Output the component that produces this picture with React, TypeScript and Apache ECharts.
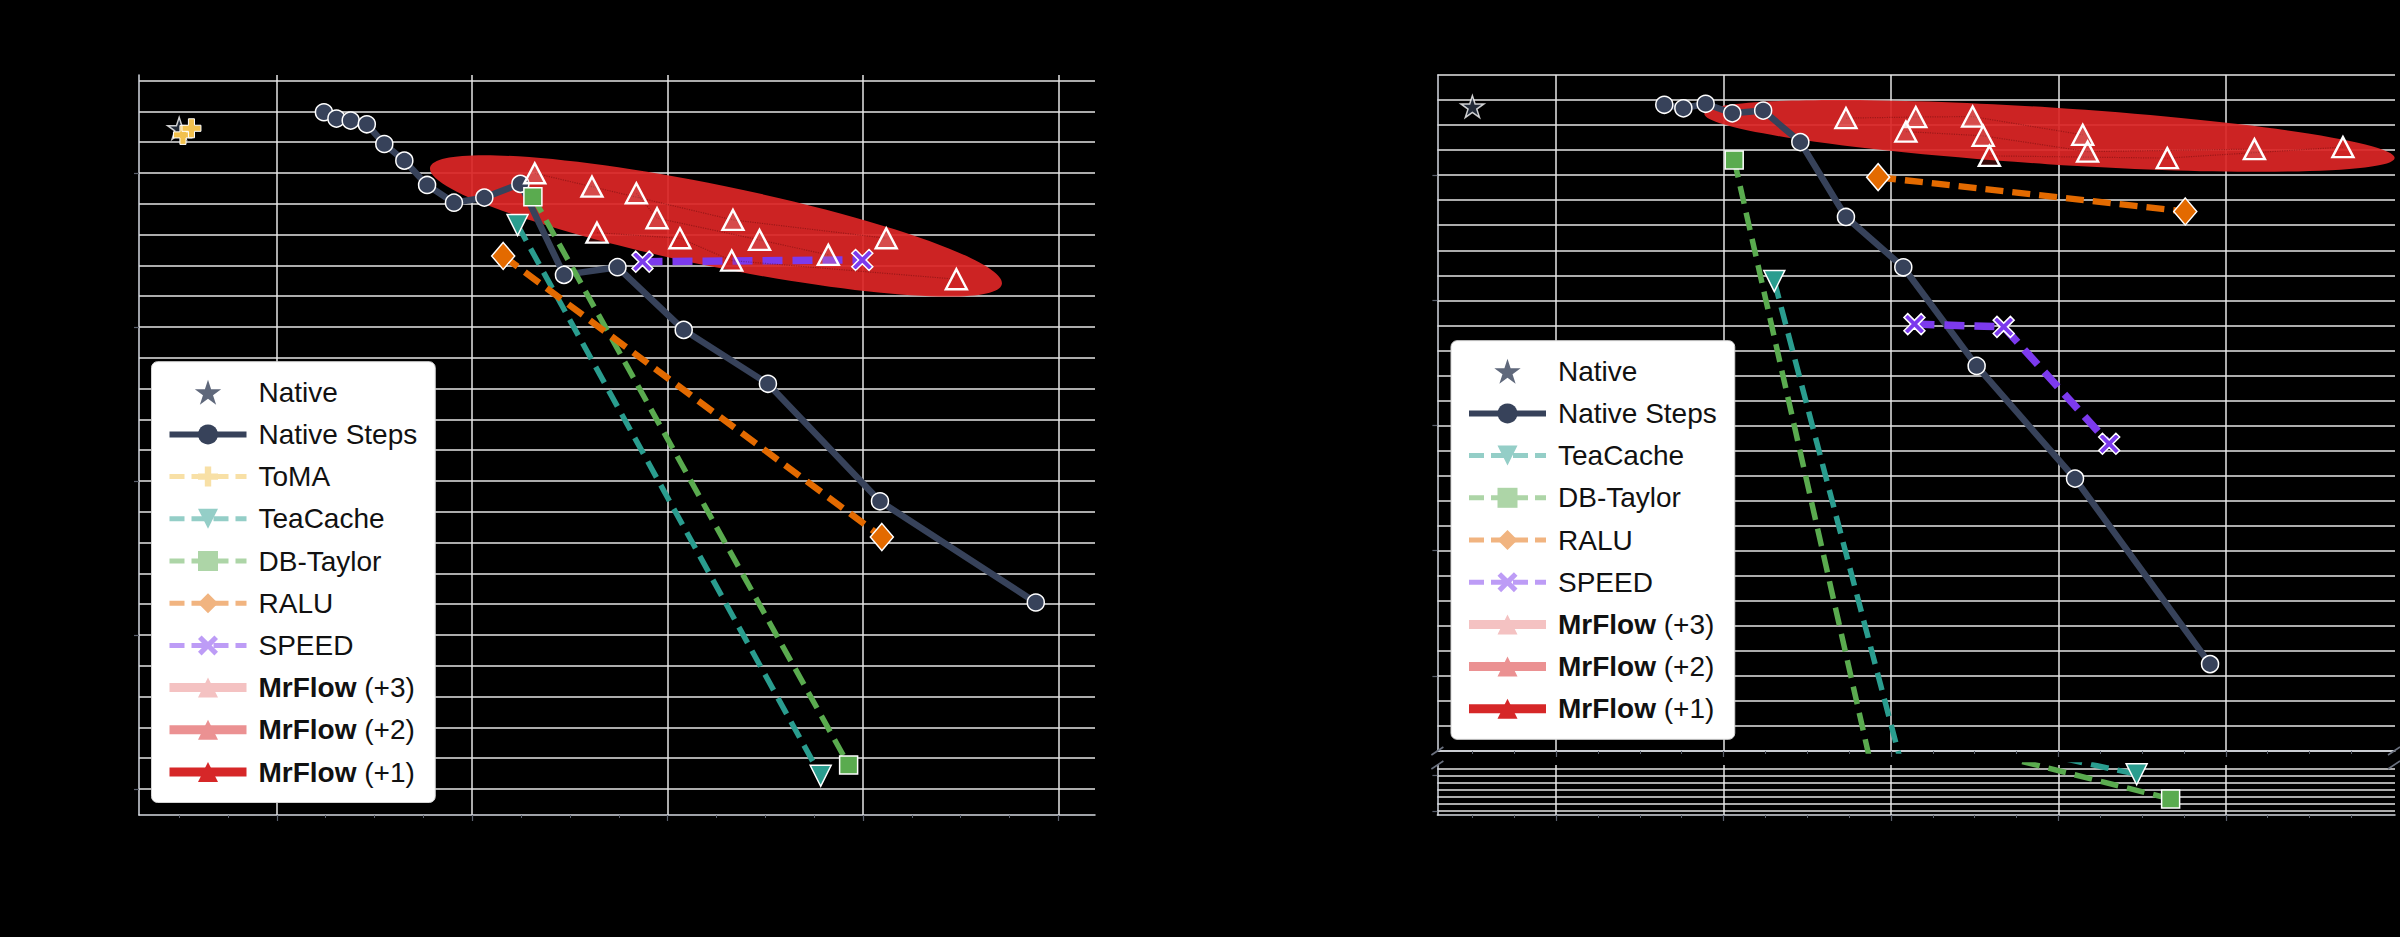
import React, { useEffect, useRef } from 'react';
import * as echarts from 'echarts';

// ---------------- DATA (x = speedup, y = quality score) ----------------
// Left panel
const L_NATIVE = [[1.0, 1.029]];
const L_TOMA = [[1.039, 1.0247], [1.126, 1.029]];
const L_NATIVE_STEPS = [
  [2.482, 1.0394], [2.61, 1.0353], [2.756, 1.034], [2.921, 1.0316], [3.1, 1.0188], [3.305, 1.008],
  [3.538, 0.9922], [3.813, 0.9807], [4.124, 0.984], [4.493, 0.9929], [4.939, 0.9338], [5.487, 0.9388],
  [6.165, 0.8981], [7.027, 0.8631], [8.174, 0.7868], [9.769, 0.7211],
];
const L_TEACACHE = [[4.464, 0.9662], [7.567, 0.6086]];
const L_DBTAYLOR = [[4.621, 0.9846], [7.853, 0.6156]];
const L_RALU = [[4.317, 0.9461], [8.193, 0.7636]];
const L_SPEED = [[5.743, 0.9424], [7.993, 0.9435]];
const L_MRFLOW3 = [[4.64, 0.9998], [5.226, 0.9911], [6.669, 0.9695], [8.238, 0.9576]];
const L_MRFLOW2 = [[5.68, 0.9868], [5.892, 0.9706], [6.941, 0.9565], [7.645, 0.9468]];
const L_MRFLOW1 = [[5.277, 0.9612], [6.126, 0.9576], [6.656, 0.9431], [8.956, 0.931]];
// highlight ellipse: [centerX, centerY, majorEndX, majorEndY, minor/major ratio]
const L_ELLIPSE = [6.495, 0.9656, 9.421, 0.9278, 0.1395];

// Right panel
const R_NATIVE = [[1.0, 1.1274]];
const R_NATIVE_STEPS = [
  [3.292, 1.1281], [3.52, 1.1267], [3.786, 1.1285], [4.104, 1.1247], [4.473, 1.1258], [4.917, 1.1132],
  [5.462, 1.0833], [6.147, 1.0632], [7.023, 1.0238], [8.198, 0.9788], [9.811, 0.9047],
];
const R_TEACACHE = [[4.606, 1.0577], [8.934, 0.508]];
const R_DBTAYLOR = [[4.127, 1.1061], [9.34, 0.335]];
const R_RALU = [[5.846, 1.0992], [9.515, 1.0855]];
const R_SPEED = [[6.28, 1.0405], [7.346, 1.0394], [8.606, 0.9927]];
const R_MRFLOW3 = [[5.462, 1.1228], [6.296, 1.1232], [6.975, 1.1234], [8.29, 1.1161]];
const R_MRFLOW2 = [[6.178, 1.1174], [7.101, 1.1157], [8.348, 1.1094], [10.341, 1.1104]];
const R_MRFLOW1 = [[7.175, 1.1077], [9.3, 1.1068], [11.398, 1.1112]];
const R_ELLIPSE = [7.893, 1.1157, 12.016, 1.1069, 0.082];

// Axis ranges and ticks
const L_X_RANGE = [0.589, 10.375];
const L_Y_RANGE = [0.5831, 1.0636];
const R_X_RANGE = [0.582, 12.02];
const R_TOP_Y_RANGE = [0.87, 1.14];
const R_BOT_Y_RANGE = [0.222, 0.573];
const L_X_MAJOR = [2, 4, 6, 8, 10];
const L_X_MINOR = [1, 1.5, 2.5, 3, 3.5, 4.5, 5, 5.5, 6.5, 7, 7.5, 8.5, 9, 9.5];
const R_X_MAJOR = [2, 4, 6, 8, 10];
const R_X_MINOR = [1, 1.5, 2.5, 3, 3.5, 4.5, 5, 5.5, 6.5, 7, 7.5, 8.5, 9, 9.5, 10.5, 11, 11.5];
const L_Y_MAJOR = [0.6, 0.7, 0.8, 0.9, 1.0];
const R_TOP_Y_MAJOR = [0.9, 0.95, 1.0, 1.05, 1.1];
const R_BOT_Y_MAJOR = [0.25, 0.5];
// minor horizontal grid: [first, last, step]
const L_Y_GRID = [0.6, 1.06, 0.02];
const R_TOP_Y_GRID = [0.87, 1.14, 0.01];
const R_BOT_Y_GRID = [0.25, 0.55, 0.05];

const LEFT_LEGEND = ['Native', 'Native Steps', 'ToMA', 'TeaCache', 'DB-Taylor', 'RALU', 'SPEED', 'MrFlow (+3)', 'MrFlow (+2)', 'MrFlow (+1)'];
const RIGHT_LEGEND = ['Native', 'Native Steps', 'TeaCache', 'DB-Taylor', 'RALU', 'SPEED', 'MrFlow (+3)', 'MrFlow (+2)', 'MrFlow (+1)'];

// ---------------- STYLE ----------------
const FONT = 'Liberation Sans';
const STAR = 'path://M50 0 L61.2 34.5 L97.6 34.5 L68.2 55.9 L79.4 90.5 L50 69.1 L20.6 90.5 L31.8 55.9 L2.4 34.5 L38.8 34.5 Z';
const PLUS = 'path://M34 0 H66 V34 H100 V66 H66 V100 H34 V66 H0 V34 H34 Z';
const XMARK = 'path://M18 0 L50 32 L82 0 L100 18 L68 50 L100 82 L82 100 L50 68 L18 100 L0 82 L32 50 L0 18 Z';

const C = {
  native: '#2b3445',
  steps: '#37425a',
  toma: '#f2c14e',
  tea: '#2a9d8f',
  db: '#5aab4f',
  ralu: '#e36a00',
  speed: '#7c3aed',
  mr3: '#f4c2c2',
  mr2: '#eb9192',
  mr1: '#d62728',
  ellipse: '#dc2626',
};
const PALE = {
  toma: '#f8e0a6',
  tea: '#94cec7',
  db: '#add5a7',
  ralu: '#f1b480',
  speed: '#bd9cf6',
};

const GRID_COLOR = '#e6e6e6';
const SPLIT = { show: true, showMinLine: true, showMaxLine: true, lineStyle: { color: GRID_COLOR, width: 1.5 } };
const AXIS_LINE = { show: true, onZero: false, lineStyle: { color: '#d5d9e0', width: 1.5 } };
const TICK_COLOR = '#5b616d';

function steps(spec: number[]) {
  const [a, b, s] = spec;
  const n = Math.round((b - a) / s);
  const out: number[] = [];
  for (let i = 0; i <= n; i++) out.push(Math.round((a + i * s) * 10000) / 10000);
  return out;
}

function majorX(gridIndex: number, range: number[], ticks: number[], showLabels: boolean, name: string) {
  return {
    type: 'value', gridIndex, position: 'bottom', min: range[0], max: range[1],
    axisLine: AXIS_LINE,
    axisTick: { show: true, customValues: ticks, length: 6, lineStyle: { color: TICK_COLOR, width: 1.2 } },
    axisLabel: { show: showLabels, customValues: ticks, color: '#000', fontFamily: FONT, fontSize: 22, margin: 12, formatter: (v: number) => `${v}×` },
    splitLine: SPLIT,
    name: showLabels ? name : '', nameLocation: 'middle', nameGap: 52,
    nameTextStyle: { color: '#000', fontFamily: FONT, fontSize: 26 },
  };
}
function minorX(gridIndex: number, range: number[], ticks: number[]) {
  return {
    type: 'value', gridIndex, position: 'bottom', min: range[0], max: range[1],
    axisLine: { show: false },
    axisTick: { show: true, customValues: ticks, length: 3, lineStyle: { color: TICK_COLOR, width: 1 } },
    axisLabel: { show: false }, splitLine: { show: false },
  };
}
function yMain(gridIndex: number, range: number[], ticks: number[], digits: number, name: string) {
  return {
    type: 'value', gridIndex, position: 'left', min: range[0], max: range[1],
    axisLine: AXIS_LINE,
    axisTick: { show: true, customValues: ticks, length: 5, lineStyle: { color: TICK_COLOR, width: 1.2 } },
    axisLabel: { show: true, customValues: ticks, color: '#000', fontFamily: FONT, fontSize: 22, margin: 10, formatter: (v: number) => v.toFixed(digits) },
    splitLine: { show: false },
    name, nameLocation: 'middle', nameGap: 70,
    nameTextStyle: { color: '#000', fontFamily: FONT, fontSize: 26 },
  };
}
// axis that only draws the horizontal grid lines
function yGrid(gridIndex: number, range: number[], gridSpec: number[]) {
  return {
    type: 'value', gridIndex, position: 'left', min: range[0], max: range[1],
    axisLine: { show: false },
    axisTick: { show: true, customValues: steps(gridSpec), length: 0, lineStyle: { color: 'rgba(0,0,0,0)', width: 0 } },
    axisLabel: { show: false },
    splitLine: SPLIT,
  };
}

function lineS(name: string, data: number[][], xi: number, yi: number, o: any) {
  return {
    type: 'line', name, data, xAxisIndex: xi, yAxisIndex: yi, clip: true, z: o.z || 3,
    symbol: o.symbol, symbolSize: o.size, symbolRotate: o.rotate || 0, symbolKeepAspect: true,
    showAllSymbol: true, silent: true, emphasis: { disabled: true },
    lineStyle: { color: o.color, width: o.width, type: o.dash || 'solid' },
    itemStyle: { color: o.fill || o.color, borderColor: '#ffffff', borderWidth: o.border ?? 1.5 },
  };
}
function nativeS(data: number[][], xi: number, yi: number) {
  return {
    type: 'scatter', name: 'Native', data, xAxisIndex: xi, yAxisIndex: yi, z: 4, silent: true,
    symbol: STAR, symbolSize: 23, symbolKeepAspect: true, emphasis: { disabled: true },
    itemStyle: { color: C.native, borderColor: '#ffffff', borderWidth: 1.5 },
  };
}
function ellipseS(spec: number[], xi: number, yi: number) {
  return {
    type: 'custom', name: 'highlight', xAxisIndex: xi, yAxisIndex: yi, z: 1, silent: true, clip: true,
    data: [spec],
    renderItem: (_p: any, api: any) => {
      const c = api.coord([api.value(0), api.value(1)]);
      const e = api.coord([api.value(2), api.value(3)]);
      const dx = e[0] - c[0];
      const dy = e[1] - c[1];
      const a = Math.hypot(dx, dy);
      const b = a * api.value(4);
      return {
        type: 'ellipse', x: c[0], y: c[1], rotation: -Math.atan2(dy, dx),
        shape: { cx: 0, cy: 0, rx: a, ry: b },
        style: { fill: C.ellipse, opacity: 0.93 },
      };
    },
  };
}

const MR_LINE = 'rgba(70,0,0,0.35)';
const DASH = [18, 9];
function seriesFor(xi: number, yi: number, d: any, withToma: boolean) {
  const out: any[] = [ellipseS(d.ellipse, xi, yi), nativeS(d.native, xi, yi)];
  if (withToma) out.push(lineS('ToMA', d.toma, xi, yi, { symbol: PLUS, size: 19, color: C.toma, width: 5, dash: DASH, z: 5, border: 1 }));
  out.push(
    lineS('Native Steps', d.steps, xi, yi, { symbol: 'circle', size: 17, color: C.steps, width: 6.5 }),
    lineS('TeaCache', d.tea, xi, yi, { symbol: 'triangle', rotate: 180, size: 21, color: C.tea, width: 5.5, dash: DASH }),
    lineS('DB-Taylor', d.db, xi, yi, { symbol: 'rect', size: 18, color: C.db, width: 5.5, dash: DASH }),
    lineS('RALU', d.ralu, xi, yi, { symbol: 'diamond', size: [23, 27], color: C.ralu, width: 6.5, dash: DASH }),
    lineS('SPEED', d.speed, xi, yi, { symbol: XMARK, size: 21, color: C.speed, width: 7.5, dash: [20, 10] }),
    lineS('MrFlow (+3)', d.mr3, xi, yi, { symbol: 'triangle', size: [21, 20], color: MR_LINE, fill: 'rgba(244,194,194,0.25)', width: 1.2, dash: 'dotted', border: 2.4, z: 4 }),
    lineS('MrFlow (+2)', d.mr2, xi, yi, { symbol: 'triangle', size: [21, 20], color: MR_LINE, fill: 'rgba(235,145,146,0.25)', width: 1.2, dash: 'dotted', border: 2.4, z: 4 }),
    lineS('MrFlow (+1)', d.mr1, xi, yi, { symbol: 'triangle', size: [21, 20], color: MR_LINE, fill: 'rgba(214,39,40,0.25)', width: 1.2, dash: 'dotted', border: 2.4, z: 4 }),
  );
  return out;
}

const LEGEND_STYLE: Record<string, any> = {
  'Native': { itemStyle: { color: C.steps, borderWidth: 0 } },
  'Native Steps': { itemStyle: { color: C.steps, borderWidth: 0 }, lineStyle: { color: C.steps, width: 6, type: 'solid' } },
  'ToMA': { itemStyle: { color: PALE.toma, borderWidth: 0 }, lineStyle: { color: PALE.toma, width: 5, type: [15, 7] } },
  'TeaCache': { itemStyle: { color: PALE.tea, borderWidth: 0 }, lineStyle: { color: PALE.tea, width: 5, type: [15, 7] } },
  'DB-Taylor': { itemStyle: { color: PALE.db, borderWidth: 0 }, lineStyle: { color: PALE.db, width: 5, type: [15, 7] } },
  'RALU': { itemStyle: { color: PALE.ralu, borderWidth: 0 }, lineStyle: { color: PALE.ralu, width: 5, type: [15, 7] } },
  'SPEED': { itemStyle: { color: PALE.speed, borderWidth: 0 }, lineStyle: { color: PALE.speed, width: 5, type: [15, 7] } },
  'MrFlow (+3)': { itemStyle: { color: C.mr3, borderWidth: 0 }, lineStyle: { color: C.mr3, width: 9, type: 'solid' } },
  'MrFlow (+2)': { itemStyle: { color: C.mr2, borderWidth: 0 }, lineStyle: { color: C.mr2, width: 9, type: 'solid' } },
  'MrFlow (+1)': { itemStyle: { color: C.mr1, borderWidth: 0 }, lineStyle: { color: C.mr1, width: 9, type: 'solid' } },
};

function legend(names: string[], left: number, top: number) {
  const txt = { fontFamily: FONT, fontSize: 28, color: '#111111', lineHeight: 34 };
  return {
    orient: 'vertical', left, top, z: 20, selectedMode: false,
    itemWidth: 77, itemHeight: 25, itemGap: 8.2,
    backgroundColor: '#ffffff', borderColor: '#d4d4d4', borderWidth: 1, borderRadius: 6,
    padding: [13.5, 18, 13.5, 13.5],
    data: names.map((n) => ({ name: n, ...LEGEND_STYLE[n] })),
    formatter: (name: string) =>
      name.startsWith('MrFlow') ? `{sp|}{b|MrFlow}{t|${name.slice(6)}}` : `{sp|}{t|${name}}`,
    textStyle: {
      ...txt,
      rich: { sp: { width: 7 }, b: { ...txt, fontWeight: 'bold' }, t: { ...txt } },
    },
  };
}

function breakMarks() {
  const pts = [[1437.4, 751], [1437.4, 765], [2394, 751], [2394, 765]];
  return pts.map(([x, y]) => ({
    type: 'line', z: 30, silent: true,
    shape: { x1: x - 6, y1: y + 4, x2: x + 6, y2: y - 4 },
    style: { stroke: '#6b7280', lineWidth: 1.6 },
  }));
}

function buildOption() {
  const left = { native: L_NATIVE, toma: L_TOMA, steps: L_NATIVE_STEPS, tea: L_TEACACHE, db: L_DBTAYLOR, ralu: L_RALU, speed: L_SPEED, mr3: L_MRFLOW3, mr2: L_MRFLOW2, mr1: L_MRFLOW1, ellipse: L_ELLIPSE };
  const right = { native: R_NATIVE, steps: R_NATIVE_STEPS, tea: R_TEACACHE, db: R_DBTAYLOR, ralu: R_RALU, speed: R_SPEED, mr3: R_MRFLOW3, mr2: R_MRFLOW2, mr1: R_MRFLOW1, ellipse: R_ELLIPSE };
  return {
    animation: false,
    backgroundColor: '#000000',
    grid: [
      { left: 139, top: 75, width: 956, height: 740, containLabel: false, outerBoundsMode: 'none' },
      { left: 1437.4, top: 75, width: 957.6, height: 676, containLabel: false, outerBoundsMode: 'none' },
      { left: 1437.4, top: 765, width: 957.6, height: 50, containLabel: false, outerBoundsMode: 'none' },
    ],
    xAxis: [
      majorX(0, L_X_RANGE, L_X_MAJOR, true, 'Speedup'),
      minorX(0, L_X_RANGE, L_X_MINOR),
      majorX(1, R_X_RANGE, R_X_MAJOR, false, ''),
      minorX(1, R_X_RANGE, R_X_MINOR),
      majorX(2, R_X_RANGE, R_X_MAJOR, true, 'Speedup'),
      minorX(2, R_X_RANGE, R_X_MINOR),
    ],
    yAxis: [
      yMain(0, L_Y_RANGE, L_Y_MAJOR, 1, 'Score'),
      yGrid(0, L_Y_RANGE, L_Y_GRID),
      yMain(1, R_TOP_Y_RANGE, R_TOP_Y_MAJOR, 2, 'Score'),
      yGrid(1, R_TOP_Y_RANGE, R_TOP_Y_GRID),
      yMain(2, R_BOT_Y_RANGE, R_BOT_Y_MAJOR, 2, ''),
      yGrid(2, R_BOT_Y_RANGE, R_BOT_Y_GRID),
    ],
    legend: [legend(LEFT_LEGEND, 151.5, 361.7), legend(RIGHT_LEGEND, 1451, 340.7)],
    series: [
      ...seriesFor(0, 0, left, true),
      ...seriesFor(2, 2, right, false),
      lineS('TeaCache', R_TEACACHE, 4, 4, { symbol: 'triangle', rotate: 180, size: 21, color: C.tea, width: 5.5, dash: DASH }),
      lineS('DB-Taylor', R_DBTAYLOR, 4, 4, { symbol: 'rect', size: 18, color: C.db, width: 5.5, dash: DASH }),
    ],
    graphic: breakMarks(),
  };
}

export default function App() {
  const ref = useRef<HTMLDivElement>(null);
  useEffect(() => {
    const chart = echarts.init(ref.current as HTMLDivElement, null, { renderer: 'svg' });
    chart.setOption(buildOption() as any);
    return () => chart.dispose();
  }, []);
  return (
    <div
      ref={ref}
      style={{ position: 'fixed', left: 0, top: 0, width: 2400, height: 937, background: '#000' }}
    />
  );
}
